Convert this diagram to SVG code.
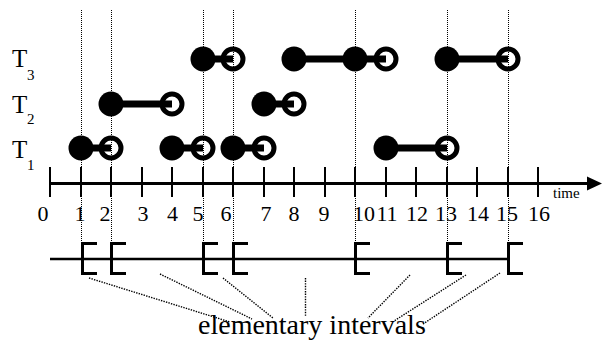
<svg xmlns="http://www.w3.org/2000/svg" width="602" height="350" viewBox="0 0 602 350">
  <style>
    .lbl { font-family: "Liberation Serif", "Times New Roman", serif; fill: #000; }
    .num { font-size: 22px; text-anchor: middle; }
    .bar { stroke: #000; stroke-width: 7; }
    .open { fill: none; stroke: #000; stroke-width: 5; }
    .closed { fill: #000; }
    .guide { stroke: #000; stroke-width: 1; stroke-dasharray: 1 1; fill: none; }
    .ptr { stroke: #000; stroke-width: 1.4; stroke-dasharray: 1.4 1.2; fill: none; }
    .tick { stroke: #000; stroke-width: 2; }
    .brk { fill: none; stroke: #000; stroke-width: 3; }
  </style>

  <!-- vertical guides through interval endpoints -->
  <g id="guides">
    <line class="guide" x1="81.5" y1="10" x2="81.5" y2="274"/>
    <line class="guide" x1="111.5" y1="10" x2="111.5" y2="244"/>
    <line class="guide" x1="203.5" y1="10" x2="203.5" y2="244"/>
    <line class="guide" x1="233.5" y1="10" x2="233.5" y2="244"/>
    <line class="guide" x1="355.5" y1="10" x2="355.5" y2="244"/>
    <line class="guide" x1="447.5" y1="10" x2="447.5" y2="244"/>
    <line class="guide" x1="508.5" y1="10" x2="508.5" y2="244"/>
  </g>

  <!-- row labels -->
  <g id="labels">
    <text class="lbl" x="12" y="67" font-size="25">T</text>
    <text class="lbl" x="27" y="80" font-size="15">3</text>
    <text class="lbl" x="12" y="113" font-size="25">T</text>
    <text class="lbl" x="27" y="124" font-size="15">2</text>
    <text class="lbl" x="12" y="158" font-size="25">T</text>
    <text class="lbl" x="27" y="170" font-size="15">1</text>
  </g>

  <!-- T3 intervals -->
  <g id="T3">
    <line class="bar" x1="203" y1="59" x2="233" y2="59"/>
    <circle class="closed" cx="203" cy="59" r="12.5"/>
    <circle class="open" cx="233" cy="59" r="10"/>
    <line class="bar" x1="294" y1="59" x2="386" y2="59"/>
    <circle class="closed" cx="294" cy="59" r="12.5"/>
    <circle class="closed" cx="355" cy="59" r="12.5"/>
    <circle class="open" cx="386" cy="59" r="10"/>
    <line class="bar" x1="447" y1="59" x2="508" y2="59"/>
    <circle class="closed" cx="447" cy="59" r="12.5"/>
    <circle class="open" cx="508" cy="59" r="10"/>
  </g>

  <!-- T2 intervals -->
  <g id="T2">
    <line class="bar" x1="111" y1="104" x2="172" y2="104"/>
    <circle class="closed" cx="111" cy="104" r="12.5"/>
    <circle class="open" cx="172" cy="104" r="10"/>
    <line class="bar" x1="264" y1="104" x2="294" y2="104"/>
    <circle class="closed" cx="264" cy="104" r="12.5"/>
    <circle class="open" cx="294" cy="104" r="10"/>
  </g>

  <!-- T1 intervals -->
  <g id="T1">
    <line class="bar" x1="81" y1="148" x2="111" y2="148"/>
    <circle class="closed" cx="81" cy="148" r="12.5"/>
    <circle class="open" cx="111" cy="148" r="10"/>
    <line class="bar" x1="172" y1="148" x2="203" y2="148"/>
    <circle class="closed" cx="172" cy="148" r="12.5"/>
    <circle class="open" cx="203" cy="148" r="10"/>
    <line class="bar" x1="233" y1="148" x2="264" y2="148"/>
    <circle class="closed" cx="233" cy="148" r="12.5"/>
    <circle class="open" cx="264" cy="148" r="10"/>
    <line class="bar" x1="386" y1="148" x2="447" y2="148"/>
    <circle class="closed" cx="386" cy="148" r="12.5"/>
    <circle class="open" cx="447" cy="148" r="10"/>
  </g>

  <!-- time axis -->
  <g id="axis">
    <line x1="50" y1="183.5" x2="590" y2="183.5" stroke="#000" stroke-width="3"/>
    <polygon points="587,176.5 602,183.5 587,190.5" fill="#000"/>
    <g class="tick">
      <line x1="50" y1="167" x2="50" y2="197"/>
      <line x1="81" y1="167" x2="81" y2="197"/>
      <line x1="111" y1="167" x2="111" y2="197"/>
      <line x1="142" y1="167" x2="142" y2="197"/>
      <line x1="172" y1="167" x2="172" y2="197"/>
      <line x1="203" y1="167" x2="203" y2="197"/>
      <line x1="233" y1="167" x2="233" y2="197"/>
      <line x1="264" y1="167" x2="264" y2="197"/>
      <line x1="294" y1="167" x2="294" y2="197"/>
      <line x1="325" y1="167" x2="325" y2="197"/>
      <line x1="355" y1="167" x2="355" y2="197"/>
      <line x1="386" y1="167" x2="386" y2="197"/>
      <line x1="416" y1="167" x2="416" y2="197"/>
      <line x1="447" y1="167" x2="447" y2="197"/>
      <line x1="477" y1="167" x2="477" y2="197"/>
      <line x1="508" y1="167" x2="508" y2="197"/>
      <line x1="538" y1="167" x2="538" y2="197"/>
    </g>
    <g class="lbl num">
      <text x="43" y="221">0</text>
      <text x="80" y="221">1</text>
      <text x="105" y="221">2</text>
      <text x="143" y="221">3</text>
      <text x="172.5" y="221">4</text>
      <text x="198" y="221">5</text>
      <text x="226" y="221">6</text>
      <text x="266" y="221">7</text>
      <text x="294" y="221">8</text>
      <text x="324" y="221">9</text>
      <text x="364" y="221">10</text>
      <text x="387" y="221">11</text>
      <text x="417" y="221">12</text>
      <text x="446" y="221">13</text>
      <text x="478" y="221">14</text>
      <text x="507" y="221">15</text>
      <text x="539" y="221">16</text>
    </g>
    <text class="lbl" x="553" y="198" font-size="15">time</text>
  </g>

  <!-- elementary interval line with left-closed brackets -->
  <g id="intervals">
    <line x1="50" y1="259" x2="509" y2="259" stroke="#000" stroke-width="2.5"/>
    <path class="brk" d="M97 243.5H82.5V273.5H97"/>
    <path class="brk" d="M126 243.5H111.5V273.5H126"/>
    <path class="brk" d="M218 243.5H203.5V273.5H218"/>
    <path class="brk" d="M248 243.5H233.5V273.5H248"/>
    <path class="brk" d="M370 243.5H355.5V273.5H370"/>
    <path class="brk" d="M462 243.5H447.5V273.5H462"/>
    <path class="brk" d="M523 243.5H508.5V273.5H523"/>
  </g>

  <!-- pointers to the caption -->
  <g id="pointers">
    <line class="ptr" x1="89" y1="278" x2="230" y2="322"/>
    <line class="ptr" x1="160" y1="274" x2="252" y2="319"/>
    <line class="ptr" x1="223" y1="278" x2="273" y2="318"/>
    <line class="ptr" x1="305.5" y1="278" x2="305.5" y2="317"/>
    <line class="ptr" x1="410" y1="275" x2="368" y2="318"/>
    <line class="ptr" x1="466" y1="275" x2="394" y2="321"/>
    <line class="ptr" x1="500" y1="273" x2="423" y2="324"/>
  </g>

  <g id="caption">
    <text class="lbl" x="198" y="334" font-size="28">elementary intervals</text>
  </g>
</svg>
